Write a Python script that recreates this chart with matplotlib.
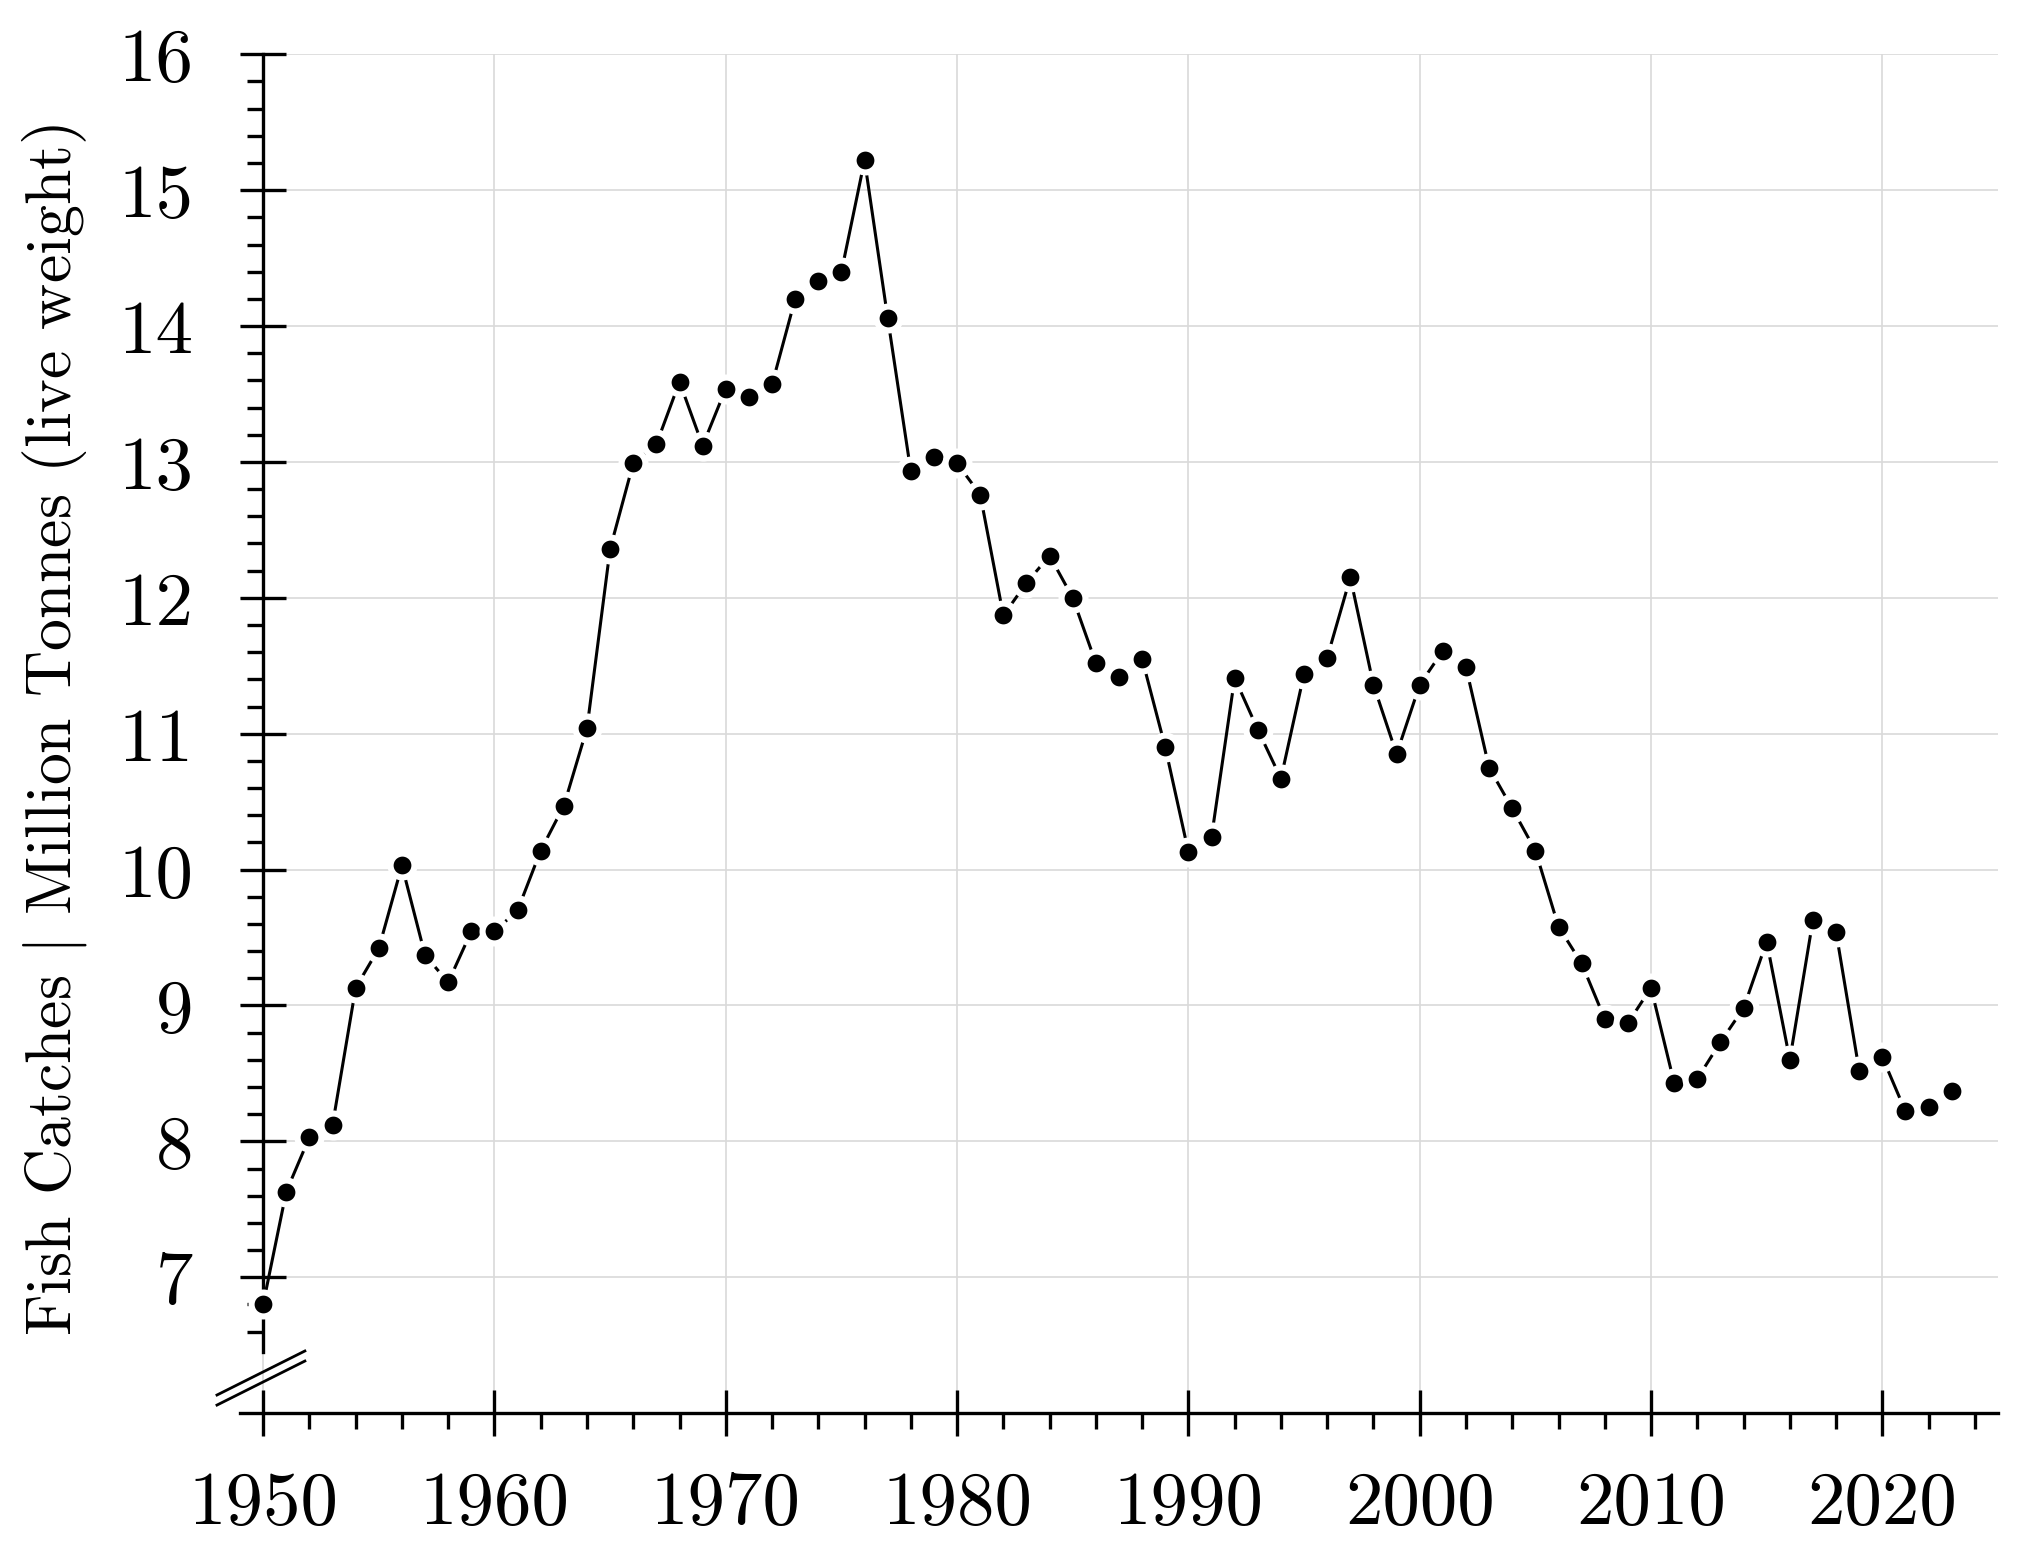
import matplotlib
matplotlib.use("Agg")
import matplotlib.pyplot as plt
import numpy as np

years = np.arange(1950, 2024)
catches = np.array([
    6.80, 7.63, 8.03, 8.12, 9.13, 9.42, 10.03, 9.37, 9.17, 9.545,
    9.545, 9.70, 10.14, 10.47, 11.04, 12.36, 12.99, 13.13, 13.59, 13.12,
    13.54, 13.48, 13.57, 14.20, 14.33, 14.40, 15.22, 14.06, 12.93, 13.04,
    12.99, 12.76, 11.87, 12.11, 12.31, 12.00, 11.52, 11.42, 11.55, 10.90,
    10.13, 10.24, 11.41, 11.03, 10.67, 11.44, 11.56, 12.15, 11.36, 10.85,
    11.36, 11.61, 11.49, 10.75, 10.45, 10.14, 9.58, 9.31, 8.90, 8.87,
    9.13, 8.43, 8.46, 8.73, 8.98, 9.47, 8.60, 9.63, 9.54, 8.52,
    8.62, 8.22, 8.25, 8.37,
])

x_major = np.arange(1950, 2021, 10)
x_minor = np.arange(1950, 2025, 2)
y_major = np.arange(7, 17)
y_minor = [v for v in np.round(np.arange(6.6, 16.0, 0.2), 1) if v % 1 != 0]

plt.rcParams['font.family'] = 'serif'
plt.rcParams['font.serif'] = ['cmr10']
plt.rcParams['mathtext.fontset'] = 'cm'
plt.rcParams['axes.formatter.use_mathtext'] = True

fig = plt.figure(figsize=(10.17, 7.784), dpi=200)
ax = fig.add_axes([0.1180, 0.0918, 0.8643, 0.8728])

ax.plot(years, catches, color='black', lw=1.1, marker='o', ms=8.6,
        mfc='black', mec='white', mew=2.2, zorder=3)

ax.set_xlim(1949, 2025)
ax.set_ylim(6, 16)

ax.set_xticks(x_major)
ax.set_xticklabels([str(v) for v in x_major])
ax.set_xticks(x_minor, minor=True)
ax.set_yticks(y_major)
ax.set_yticklabels([str(v) for v in y_major])
ax.set_yticks(y_minor, minor=True)

ax.spines['top'].set_visible(False)
ax.spines['right'].set_visible(False)
ax.spines['left'].set_position(('data', 1950))
ax.spines['left'].set_bounds(6.45, 16)
for s in ['left', 'bottom']:
    ax.spines[s].set_linewidth(1.2)

ax.tick_params(which='major', direction='inout', length=16.5, width=1.2, labelsize=27)
ax.tick_params(which='minor', direction='out', length=5.8, width=1.2)
ax.tick_params(axis='x', which='major', pad=12.5)
ax.tick_params(axis='y', which='major', pad=17)

ax.grid(True, which='major', color='#d9d9d9', lw=0.6, zorder=0)
ax.set_axisbelow(True)

ax.set_ylabel('Fish Catches $|$ Million Tonnes (live weight)', fontsize=23)
ax.yaxis.set_label_coords(-0.086, 0.503)

# axis break marks
cx, cy = 0.0119, 0.0258
dx, dy = 0.025, 0.0162
for off in (-0.0037, 0.0037):
    ax.plot([cx - dx, cx + dx], [cy - dy + off, cy + dy + off], color='black',
            lw=1.0, transform=ax.transAxes, clip_on=False)

fig.savefig('out.png', dpi=200)
